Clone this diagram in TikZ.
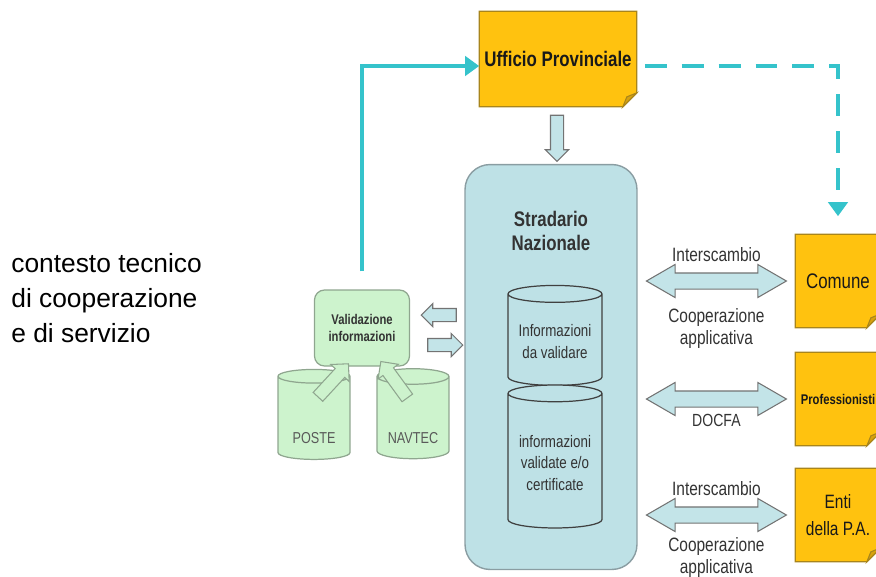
\documentclass[tikz,border=0pt]{standalone}
\usepackage{fontspec}
\setmainfont{Liberation Sans}
\newfontfamily\narrowsf[FakeStretch=0.8]{Liberation Sans}
\usepackage{tikz}
\usepackage{xcolor}
\usetikzlibrary{arrows.meta, shapes.geometric, shapes.arrows, positioning, calc, backgrounds}

\definecolor{noteyellow}{HTML}{FFC20F}
\definecolor{noteborder}{HTML}{A8851C}
\definecolor{notefold}{HTML}{D8A20C}
\definecolor{linkcyan}{HTML}{35C3CB}
\definecolor{stradblue}{HTML}{BEE1E6}
\definecolor{stradborder}{HTML}{8A9DA2}
\definecolor{validgreen}{HTML}{CDF3CD}
\definecolor{validborder}{HTML}{8FA68F}
\definecolor{arrowblue}{HTML}{C3E4E8}

\begin{document}
\begin{tikzpicture}[x=0.02cm, y=-0.02cm,
    note/.style={rectangle, minimum width=1.7cm, minimum height=1.86cm, inner sep=1pt, text=black!90, align=center},
    strad/.style={draw=stradborder, fill=stradblue, rounded corners=0.5cm, line width=0.8pt},
    dbcyl/.style={cylinder, shape border rotate=90, aspect=0.2, draw=black!75, fill=stradblue, line width=0.7pt, text=black!80, align=center, font=\narrowsf\fontsize{9.5}{12.5}\selectfont},
    srccyl/.style={cylinder, shape border rotate=90, aspect=0.25, draw=validborder, fill=validgreen, line width=0.7pt, text=black!65, minimum width=1.44cm, minimum height=1.8cm, text height=0.92cm, text depth=0pt, font=\narrowsf\fontsize{9}{11}\selectfont},
    valbox/.style={draw=validborder, fill=validgreen, rounded corners=0.2cm, line width=0.7pt, align=center, text=black!80, font=\narrowsf\fontsize{8}{10}\selectfont\bfseries},
    barrow/.style={single arrow, draw=black!55, fill=arrowblue, line width=0.6pt, inner xsep=0pt, inner ysep=0.12cm, minimum width=0.44cm, single arrow head extend=0.1cm, minimum height=0.7cm},
    garrow/.style={single arrow, draw=validborder, fill=validgreen, line width=0.6pt, inner xsep=0pt, inner ysep=0.12cm, minimum width=0.48cm, single arrow head extend=0.12cm, minimum height=0.9cm},
    darrow/.style={double arrow, draw=black!55, fill=arrowblue, line width=0.6pt, inner xsep=0pt, inner ysep=0.15cm, minimum width=0.64cm, double arrow head extend=0.17cm, double arrow tip angle=60, minimum height=2.8cm},
    lbl/.style={inner sep=1pt, align=center, text=black!80, font=\narrowsf\fontsize{11}{12.5}\selectfont},
    link/.style={linkcyan, line width=2.8pt, -{Triangle[length=8pt, width=11pt]}}
  ]
    \useasboundingbox (0,0) rectangle (876,576);
    \clip (0,0) rectangle (876,576);

    % Context caption
    \node[anchor=north west, inner sep=0pt, align=left, text=black, font=\fontsize{15}{20}\selectfont] (ctx) at (11,253)
        {contesto tecnico\\di cooperazione\\e di servizio};

    % Provincial office and national street register
    \node[note, minimum width=3.14cm, minimum height=1.9cm, font=\narrowsf\fontsize{12}{14}\selectfont\bfseries] (uff) at (558,59) {Ufficio Provinciale};
    \node[strad, minimum width=3.44cm, minimum height=8.1cm] (strad) at (551,367) {};
    \node[align=center, text=black!80, font=\narrowsf\fontsize{12}{14}\selectfont\bfseries] (stitle) at (551,231) {Stradario\\Nazionale};
    \node[dbcyl, minimum width=1.88cm, minimum height=2cm] (daval) at (555,342) {Informazioni\\da validare};
    \node[dbcyl, minimum width=1.88cm, minimum height=2.86cm] (certif) at (555,463) {informazioni\\validate e/o\\certificate};

    % Validation and sources
    \node[valbox, minimum width=1.9cm, minimum height=1.52cm] (valid) at (362,328) {Validazione\\informazioni};
    \node[srccyl] (poste) at (314,420) {POSTE};
    \node[srccyl] (navtec) at (413,420) {NAVTEC};
    \path ($(poste.north)+(4,28)$) -- ($(valid.south)+(-18,2)$) node[midway, sloped, allow upside down, garrow] (gp) {};
    \path ($(navtec.north)+(-7,28)$) -- ($(valid.south)+(24,2)$) node[midway, sloped, allow upside down, garrow] (gn) {};
    \node[barrow, rotate=180] (toval) at (442,315) {};
    \node[barrow] (tostrad) at (442,345) {};
    \node[barrow, rotate=-90, minimum height=0.92cm] (down) at (557,135) {};

    % Partners
    \node[note, font=\narrowsf\fontsize{12}{14}\selectfont] (com) at (838,281) {Comune};
    \node[note, font=\narrowsf\fontsize{8}{10}\selectfont\bfseries] (prof) at (838,399) {Professionisti};
    \node[note, font=\narrowsf\fontsize{11}{15}\selectfont] (enti) at (838,515) {Enti\\della P.A.};

    \path (strad.east |- com) -- (com.west) node[midway, darrow] (da1) {};
    \path (strad.east |- prof) -- (prof.west) node[midway, darrow] (da2) {};
    \path (strad.east |- enti) -- (enti.west) node[midway, darrow] (da3) {};
    \node[lbl, above=0.17cm of da1] (l1a) {Interscambio};
    \node[lbl, below=0.34cm of da1] (l1b) {Cooperazione\\applicativa};
    \node[lbl, below=0.1cm of da2, font=\narrowsf\fontsize{10}{12}\selectfont] (l2) {DOCFA};
    \node[lbl, above=0.17cm of da3] (l3a) {Interscambio};
    \node[lbl, below=0.24cm of da3] (l3b) {Cooperazione\\applicativa};

    % Flows
    \draw[link, shorten <=0.36cm] (valid.north) |- ($(uff.west)+(0,7)$);
    \draw[link, dash pattern=on 12.5pt off 8.5pt, shorten <=0.16cm, shorten >=0.36cm] ($(uff.east)+(0,7)$) -| (com.north);

    % Notes with folded corner
    \begin{pgfonlayer}{background}
    \foreach \n in {uff, com, prof, enti} {
        \filldraw[fill=noteyellow, draw=noteborder, line width=0.7pt]
            (\n.north west) -- (\n.north east) -- ($(\n.south east)+(0,-14)$)
            -- ($(\n.south east)+(-14,0)$) -- (\n.south west) -- cycle;
        \filldraw[fill=notefold, draw=noteborder, line width=0.6pt]
            ($(\n.south east)+(0,-14)$) -- ($(\n.south east)+(-10,-10)$) -- ($(\n.south east)+(-14,0)$) -- cycle;
    }
    \end{pgfonlayer}
\end{tikzpicture}
\end{document}
